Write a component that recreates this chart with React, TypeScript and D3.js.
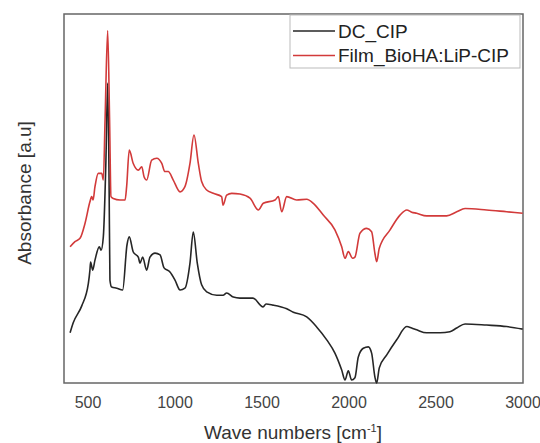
import React from 'react';
import * as d3 from 'd3';

// FTIR spectra, absorbance in arbitrary units (0-100 span of the frame)
const dcWave = [397, 415, 464, 502, 511, 515, 527, 540, 565, 575, 588, 603, 613, 621, 626, 636, 665, 699, 724, 737, 760, 789, 799, 814, 837, 856, 885, 914, 937, 971, 1000, 1029, 1057, 1086, 1105, 1128, 1153, 1182, 1240, 1276, 1297, 1335, 1373, 1448, 1506, 1523, 1563, 1642, 1680, 1757, 1814, 1872, 1919, 1958, 1977, 1996, 2015, 2034, 2053, 2082, 2111, 2130, 2149, 2159, 2174, 2217, 2274, 2332, 2360, 2389, 2446, 2523, 2580, 2619, 2667, 2791, 2906, 2998];
const dcAbs = [13.6, 16.3, 20.9, 27.0, 30.6, 32.8, 30.6, 33.3, 36.9, 36.0, 39.6, 60.4, 81.3, 55.0, 27.9, 26.0, 25.7, 25.2, 37.4, 39.6, 35.5, 34.1, 32.5, 34.1, 30.6, 34.1, 35.2, 34.7, 31.2, 30.1, 27.9, 25.2, 25.7, 32.5, 40.9, 32.5, 26.6, 24.7, 23.8, 23.8, 24.4, 23.3, 23.0, 23.0, 20.6, 21.4, 21.1, 20.1, 19.2, 17.9, 15.2, 11.7, 8.1, 3.5, 0.8, 3.3, 0.8, 1.4, 7.0, 9.4, 9.8, 8.1, 1.6, 0.0, 4.1, 7.6, 11.7, 15.3, 14.9, 14.4, 13.6, 13.6, 13.9, 14.9, 16.0, 15.7, 15.3, 14.6];

const filmWave = [397, 425, 454, 483, 511, 521, 529, 540, 559, 579, 588, 598, 613, 624, 632, 645, 684, 713, 722, 737, 760, 789, 809, 822, 837, 866, 895, 924, 942, 961, 990, 1029, 1057, 1086, 1109, 1134, 1153, 1182, 1220, 1268, 1276, 1297, 1326, 1373, 1431, 1479, 1507, 1575, 1594, 1613, 1642, 1699, 1757, 1795, 1852, 1919, 1958, 1977, 1996, 2021, 2034, 2063, 2102, 2130, 2149, 2159, 2174, 2236, 2293, 2332, 2360, 2389, 2446, 2561, 2619, 2667, 2791, 2906, 2998];
const filmAbs = [36.9, 38.3, 39.2, 43.3, 49.1, 50.5, 49.6, 53.2, 56.8, 56.8, 55.0, 71.3, 95.5, 71.3, 50.5, 50.0, 49.6, 49.6, 53.2, 63.1, 59.5, 57.7, 58.6, 55.9, 55.0, 60.4, 60.9, 59.5, 57.3, 57.3, 55.0, 51.8, 53.2, 59.5, 67.2, 59.5, 54.6, 52.3, 51.4, 50.5, 48.2, 50.9, 51.4, 51.2, 50.1, 46.9, 48.7, 49.6, 50.5, 46.4, 50.5, 49.6, 49.8, 48.7, 45.5, 41.5, 36.9, 33.8, 35.6, 33.8, 34.1, 40.6, 41.9, 41.0, 35.1, 32.9, 36.5, 41.5, 45.5, 46.9, 46.3, 46.0, 45.3, 45.3, 46.4, 47.3, 46.9, 46.4, 46.0];

const xTicks = [500, 1000, 1500, 2000, 2500, 3000];
const seriesNames = ['DC_CIP', 'Film_BioHA:LiP-CIP'];
const seriesColors = ['#262626', '#d23a3a'];

const W = 540;
const H = 443;
const left = 64, right = 523, top = 14, bottom = 383;
const font = '"Liberation Sans", Arial, sans-serif';

export default function App() {
  const x = d3.scaleLinear().domain([362, 3000]).range([left, right]);
  const y = d3.scaleLinear().domain([0, 100]).range([bottom, top]);

  const line = d3.line<[number, number]>()
    .x(d => x(d[0]))
    .y(d => y(d[1]))
    .curve(d3.curveMonotoneX);

  const dc = dcWave.map((w, i) => [w, dcAbs[i]] as [number, number]);
  const film = filmWave.map((w, i) => [w, filmAbs[i]] as [number, number]);

  return (
    <svg width={W} height={H} style={{ position: 'absolute', left: 0, top: 0, background: '#fff' }}>
      <rect x={left} y={top} width={right - left} height={bottom - top} fill="none" stroke="#666" strokeWidth={1.5} />
      <path d={line(dc) || ''} fill="none" stroke={seriesColors[0]} strokeWidth={1.6} strokeLinejoin="round" />
      <path d={line(film) || ''} fill="none" stroke={seriesColors[1]} strokeWidth={1.6} strokeLinejoin="round" />

      {xTicks.map(t => (
        <text key={t} x={x(t)} y={408} textAnchor="middle" fontFamily={font} fontSize={16} fill="#444">{t}</text>
      ))}
      <text x={293} y={439} textAnchor="middle" fontFamily={font} fontSize={19} fill="#333">
        Wave numbers [cm<tspan dy={-7} fontSize={11}>-1</tspan><tspan dy={7}>]</tspan>
      </text>
      <text transform={`translate(31, 193) rotate(-90)`} textAnchor="middle" fontFamily={font} fontSize={19} fill="#333">
        Absorbance [a.u]
      </text>

      <rect x={290} y={15} width={230} height={53} fill="#fff" stroke="#bbb" strokeWidth={1} />
      {seriesNames.map((n, i) => (
        <g key={n}>
          <line x1={293} x2={335} y1={31 + i * 24.5} y2={31 + i * 24.5} stroke={seriesColors[i]} strokeWidth={1.6} />
          <text x={338} y={37.5 + i * 24.5} fontFamily={font} fontSize={19} fill="#222">{n}</text>
        </g>
      ))}
    </svg>
  );
}
